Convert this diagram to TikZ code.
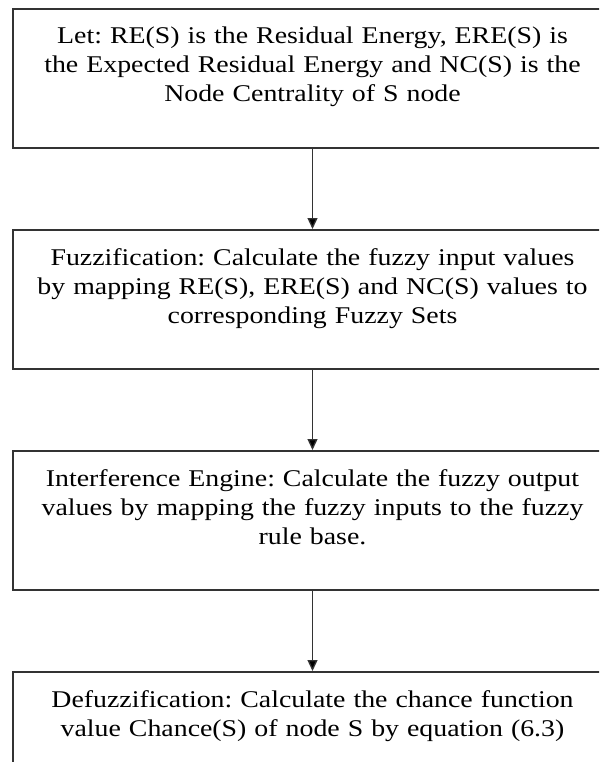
\documentclass[tikz,border=0pt]{standalone}
\usepackage{fontspec}
\setmainfont{Liberation Serif}[FakeStretch=1.16]
\frenchspacing
\usepackage{tikz}
\usetikzlibrary{positioning}
\usetikzlibrary{arrows.meta}

\begin{document}
\begin{tikzpicture}[x=1pt,y=1pt,->,>={Triangle[length=11pt,width=10pt]},node distance=80pt,
    stage/.style={draw=black!80,line width=2pt,rectangle,inner sep=0pt,
      minimum width=600pt,text width=600pt,align=center,
      text height=35pt,text depth=104pt,
      font=\fontsize{24}{29}\selectfont}]
      \clip (0,0) rectangle (599,-762);
      \node (A) [stage,anchor=north] at (312.5,-8) {Let: RE(S) is the Residual Energy, ERE(S) is\\
        the Expected Residual Energy and NC(S) is the\\ Node Centrality of S node};
      \node (B) [stage,below=of A] {Fuzzification: Calculate the fuzzy input values\\
        by mapping RE(S), ERE(S) and NC(S) values to\\ corresponding Fuzzy Sets};
      \node (C) [stage,below=of B] {Interference Engine: Calculate the fuzzy output\\
        values by mapping the fuzzy inputs to the fuzzy\\ rule base.};
      \node (D) [stage,below=of C] {Defuzzification: Calculate the chance function\\
        value Chance(S) of node S by equation (6.3)};
      \path[->,draw=black!80,line width=1.3pt] (A) edge (B)
      (B) edge (C)
      (C) edge (D);
    \end{tikzpicture}
\end{document}
